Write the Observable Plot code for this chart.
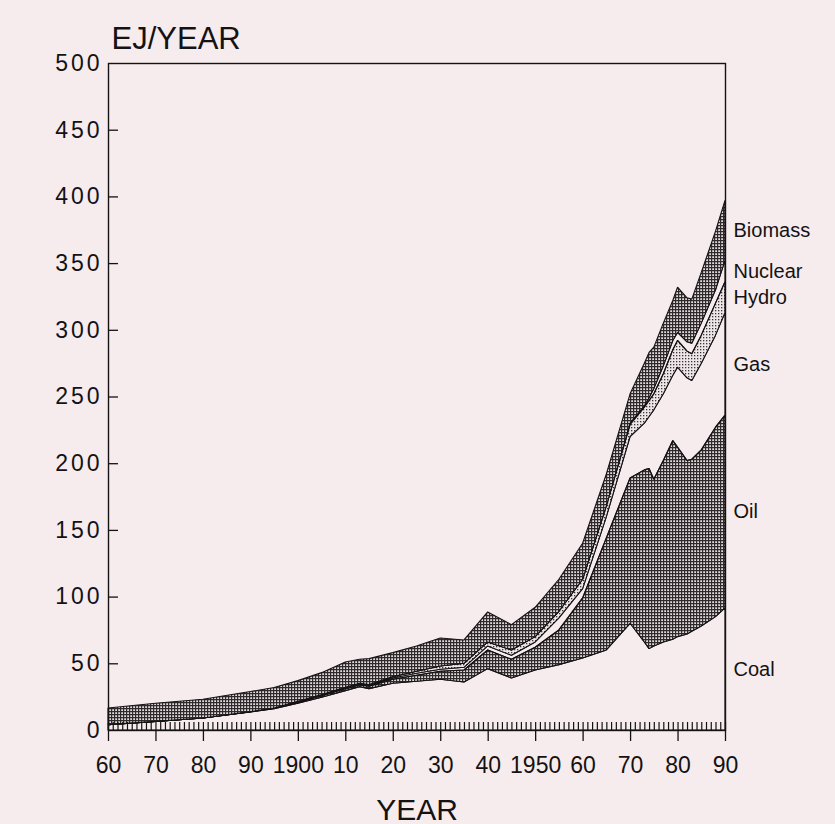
<!DOCTYPE html>
<html><head><meta charset="utf-8">
<script src="https://cdn.jsdelivr.net/npm/d3@7"></script>
<script src="https://cdn.jsdelivr.net/npm/@observablehq/plot@0.6"></script>
<style>
html,body{margin:0;padding:0;background:#f6eced;}
</style></head><body><div id="chart"></div>
<script>
// World primary energy by source, EJ/year
const years   = [1860,1870,1880,1890,1895,1900,1905,1910,1913,1915,1920,1925,1930,1935,1940,1945,1950,1955,1960,1965,1970,1973,1974,1975,1977,1979,1980,1982,1983,1985,1988,1990];
const coal    = [4,6.5,9,13.5,16,20,24.5,29.5,32.5,31,35,36.5,38,36,46,39,45,49,54,60,80,66,61,63,66,68,70,72,74,78,85,91.5];
const oil     = [0,0,0,0.2,0.3,0.9,1.2,1.5,1.3,1.8,3,4.5,6,9,14,14,17,26,45,84,109,129,135,125,136,149,142,130,129,132,142,144.5];
const gas     = [0,0,0,0.1,0.1,0.3,0.4,0.5,0.5,0.5,1,1.5,1.5,2,3,3,4,9,7,16,31,35,39,52,50,49,60,62,59,65,69,77];
const hydro   = [0,0,0,0,0,0.3,0.4,0.5,0.7,0.7,1,1.5,2.5,3,3,4,4,5,7,8,9,12,12,12,15,19,20,20,20,21,24,23];
const nuclear = [0,0,0,0,0,0,0,0,0,0,0,0,0,0,0,0,0,0,0,0,1,1,2,4,6,7,6,7,8,9,10,16];
const biomass = [12.5,13.5,14,15,15.5,15.5,16.5,19,18,19.5,18,19,21,17.5,22.5,19,22,24,27,24,22,32,34,31,32,30,34,33,33,38,44,45];

const sources = ["Coal","Oil","Gas","Hydro","Nuclear","Biomass"];
const series = {Coal: coal, Oil: oil, Gas: gas, Hydro: hydro, Nuclear: nuclear, Biomass: biomass};

const xTickYears  = [1860,1870,1880,1890,1900,1910,1920,1930,1940,1950,1960,1970,1980,1990];
const xTickLabels = ["60","70","80","90","1900","10","20","30","40","1950","60","70","80","90"];
const yTicks = [0,50,100,150,200,250,300,350,400,450,500];

const rows = sources.flatMap(s => years.map((year, i) => ({year, source: s, value: series[s][i]})));

// label positions derived from the last year's band midpoints
const last = years.length - 1;
let cum = 0;
const labelRows = sources.map(s => { const v = series[s][last]; const mid = cum + v / 2; cum += v; return {source: s, mid}; });

const fills = {Coal: "none", Oil: "url(#hatch)", Gas: "none", Hydro: "url(#dots)", Nuclear: "none", Biomass: "url(#hatch)"};

const W = 835, H = 824, mt = 63, mb = 94, ml = 108, mr = 110;
const frameH = H - mt - mb, frameW = W - ml - mr;
const ink = "#141213";

const plot = Plot.plot({
  width: W, height: H,
  marginTop: mt, marginBottom: mb, marginLeft: ml, marginRight: mr,
  style: {background: "#f6eced", fontFamily: "'Liberation Sans', Arial, Helvetica, sans-serif", color: ink, fontSize: "23px"},
  x: {domain: [1860, 1990]},
  y: {domain: [0, 500]},
  color: {type: "identity"},
  marks: [
    Plot.areaY(rows, {x: "year", y: "value", z: "source", order: sources,
      fill: d => fills[d.source], stroke: ink, strokeWidth: 1.1, strokeLinejoin: "miter"}),
    Plot.frame({stroke: ink, strokeWidth: 1.4}),
    Plot.tickX(d3.range(1860, 1991), {x: d => d, stroke: ink, strokeWidth: 1.2, insetTop: frameH - 8}),
    Plot.tickY(yTicks.slice(1, -1), {y: d => d, stroke: ink, strokeWidth: 1.3, insetRight: frameW - 10}),
    Plot.axisX({ticks: xTickYears, tickSize: 11, tickPadding: 15, strokeWidth: 1.3,
      tickFormat: d => xTickLabels[xTickYears.indexOf(d)], fontSize: 23, label: null}),
    Plot.axisY({ticks: yTicks, tickSize: 0, tickPadding: 6, fontSize: 23, label: null}),
    Plot.text(labelRows, {x: () => 1990, y: "mid", text: "source", textAnchor: "start", dx: 8, fontSize: 20, fill: ink}),
    Plot.text(["EJ/YEAR"], {frameAnchor: "top-left", textAnchor: "start", lineAnchor: "bottom", dx: 3, dy: -15, fontSize: 31, fill: ink}),
    Plot.text(["YEAR"], {frameAnchor: "bottom", textAnchor: "middle", lineAnchor: "bottom", dy: 89, fontSize: 30, fill: ink})
  ]
});

// wider spacing of the y tick labels, as in the printed figure
d3.select(plot).selectAll("text")
  .filter(function() { return this.getAttribute("text-anchor") === "end" || (this.parentNode && this.parentNode.getAttribute("text-anchor") === "end"); })
  .style("letter-spacing", "3px");

const svgNS = "http://www.w3.org/2000/svg";
const defs = document.createElementNS(svgNS, "defs");
defs.innerHTML =
  '<pattern id="hatch" width="3" height="3" patternUnits="userSpaceOnUse">' +
  '<rect width="3" height="3" fill="#e4dcde"/>' +
  '<path d="M0 0.6H3M0.6 0V3" stroke="#2e2a2c" stroke-width="1.2"/></pattern>' +
  '<pattern id="dots" width="3" height="3" patternUnits="userSpaceOnUse">' +
  '<rect width="3" height="3" fill="#ede5e7"/>' +
  '<rect x="1" y="1" width="1.3" height="1.3" fill="#3a3638"/></pattern>';
plot.insertBefore(defs, plot.firstChild);
document.getElementById("chart").appendChild(plot);
</script>
</body></html>
